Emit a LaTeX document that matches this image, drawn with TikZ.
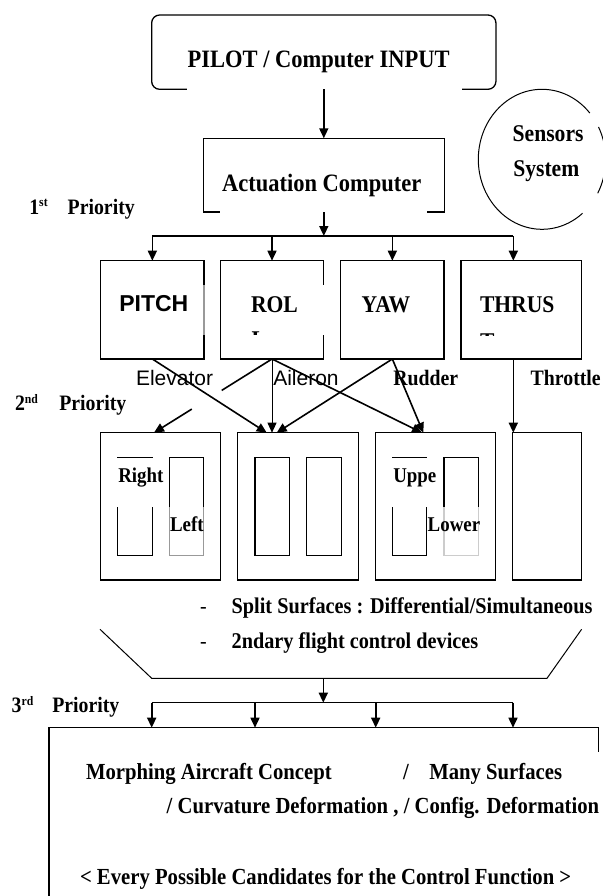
\documentclass[tikz,border=0pt]{standalone}
\usepackage{fontspec}
\setmainfont{Liberation Serif}[FakeStretch=0.9]
\newfontfamily\sansf{Liberation Sans}
\usetikzlibrary{arrows.meta,calc}
\begin{document}
\begin{tikzpicture}[x=1pt,y=-1pt,
  box/.style={draw, line width=1.3pt, inner sep=0pt, outer sep=0pt},
  inbox/.style={draw, line width=1.1pt, inner sep=0pt, outer sep=0pt, minimum width=34.4pt, minimum height=98.4pt},
  arr/.style={line width=1.6pt, -{Triangle[length=10pt,width=9pt]}},
  ln/.style={line width=1.4pt},
  lab/.style={inner sep=0pt, outer sep=0pt, anchor=base west},
  ser/.style={lab, font=\bfseries\fontsize{#1}{#1}\selectfont},
  sansl/.style={lab, font=\sansf\fontsize{#1}{#1}\selectfont},
  sansb/.style={lab, font=\sansf\bfseries\fontsize{#1}{#1}\selectfont}
]
\useasboundingbox (0,0) rectangle (602,896);

% ---- top ----
\node[box, rounded corners=8pt, minimum width=344.3pt, minimum height=74.3pt] (pilot) at (323.8,52.15) {};
\node[box, minimum width=240.7pt, minimum height=73.7pt] (act) at (323.8,175.15) {};
\draw[white, line width=2.6pt] (187.3,89.3) -- (461.7,89.3);
\draw[white, line width=2.6pt] (220,212) -- (426.7,212);
\node[ser=25, anchor=base] (tpilot) at (318.6,67.6) {PILOT / Computer INPUT};
\node[ser=25, anchor=base] (tact) at (321.7,191) {Actuation Computer};
\draw[arr] (pilot.south) -- (act.north);

% sensors
\node[inner sep=0pt, minimum width=127.4pt, minimum height=140pt] (sens) at (542,159.3) {};
\draw[line width=1pt] ([shift={(50.5:63.7 and 70)}]sens.center) arc[start angle=50.5, end angle=318.6, x radius=63.7, y radius=70];
\draw[line width=1pt] ([shift={(-27.5:63.7 and 70)}]sens.center) arc[start angle=-27.5, end angle=29, x radius=63.7, y radius=70];
\node[ser=24] (tsen1) at (512.7,142) {Sensors};
\node[ser=24] (tsen2) at (513.3,177) {System};

% priority labels
\node[ser=22] (n1) at (29.3,214) {1\raisebox{7pt}{\fontsize{13}{13}\selectfont st}};
\node[ser=22] (n1t) at (67.7,214) {Priority};
\node[ser=22] (n2) at (15,410) {2\raisebox{7pt}{\fontsize{13}{13}\selectfont nd}};
\node[ser=22] (n2t) at (59.3,410) {Priority};
\node[ser=22] (n3) at (11.7,712.7) {3\raisebox{7pt}{\fontsize{13}{13}\selectfont rd}};
\node[ser=22] (n3t) at (52.3,712.7) {Priority};

% ---- first row ----
\node[box, minimum width=103.3pt, minimum height=98.3pt] (pitch) at (152.35,309.85) {};
\node[box, minimum width=102.6pt, minimum height=98.3pt] (roll) at (272,309.85) {};
\node[box, minimum width=103.3pt, minimum height=98.3pt] (yaw) at (392.35,309.85) {};
\node[box, minimum width=120.7pt, minimum height=98.3pt] (thrust) at (521.35,309.85) {};
\fill[white, opacity=0.6] (201.5,285) rectangle (206,335);
\fill[white] (321.5,285) rectangle (325.5,335);

\coordinate (j1) at (323.8,236);
\coordinate (jl) at (152.35,236);
\coordinate (jr) at (513.3,236);
\draw[arr] (act.south) -- (j1);
\draw[ln] (jl) -- (jr);
\draw[arr] (jl) -- (pitch.north);
\draw[arr] (roll.north |- j1) -- (roll.north);
\draw[arr] (yaw.north |- j1) -- (yaw.north);
\draw[arr] (jr) -- (jr |- thrust.north);

\node[sansb=23] (tpitch) at (119.3,311.7) {PITCH};
\node[ser=24] (troll) at (251,312) {ROL};
\begin{scope}
\clip (245,320) rectangle (266,334.5);
\node[ser=24] (troll2) at (251.5,347.5) {L};
\end{scope}
\node[ser=24] (tyaw) at (361.7,312) {YAW};
\node[ser=24] (tthr) at (480,312) {THRUS};
\begin{scope}
\clip (475,320) rectangle (500,335.5);
\node[ser=24] (tthr2) at (480,349) {T};
\end{scope}

% ---- second row ----
\node[box, minimum width=120pt, minimum height=147.3pt] (s1) at (160.7,506.35) {};
\node[box, minimum width=120.6pt, minimum height=147.3pt] (s2) at (298,506.35) {};
\node[box, minimum width=120.4pt, minimum height=147.3pt] (s3) at (435.5,506.35) {};
\node[box, minimum width=69pt, minimum height=147.3pt] (s4) at (547.2,506.35) {};
\node[inbox] (r1a) at (135,506.5) {};
\node[inbox] (r1b) at (186.35,506.5) {};
\node[inbox] (r2a) at (272.15,506.5) {};
\node[inbox] (r2b) at (323.85,506.5) {};
\node[inbox] (r3a) at (409.5,506.5) {};
\node[inbox] (r3b) at (461.15,506.5) {};
\fill[white] (116,458.2) rectangle (166,506.7);
\fill[white, opacity=0.6] (166,507) rectangle (206.5,557);
\fill[white] (391,458.2) rectangle (437.5,506.7);
\fill[white, opacity=0.8] (427.6,507) rectangle (480,557);
\node[ser=21] (tright) at (118.3,482.7) {Right};
\node[ser=21] (tleft) at (170,531.7) {Left};
\node[ser=21] (tup) at (393.3,482.7) {Uppe};
\node[ser=21] (tlow) at (427.7,531.7) {Lower};

\coordinate (p1) at ($(s1.north west)+(53.3,0)$);
\coordinate (p2a) at ($(s2.north west)+(29,0)$);
\coordinate (p2b) at ($(s2.north west)+(34.3,0)$);
\coordinate (p2c) at ($(s2.north west)+(39,0)$);
\coordinate (p3a) at ($(s3.north west)+(46.7,0)$);
\coordinate (p3b) at ($(s3.north west)+(48,0)$);
\draw[arr] (pitch.south) -- (p2a);
\draw[ln, line width=1.6pt] (roll.south) -- ($(roll.south)!0.426!(p1)$);
\draw[arr] ($(roll.south)!0.68!(p1)$) -- (p1);
\draw[arr, line width=0.9pt] (roll.south) -- (p2b);
\draw[arr] (roll.south) -- (p3a);
\draw[arr] (yaw.south) -- (p2c);
\draw[arr] (yaw.south) -- (p3b);
\draw[arr] (jr |- thrust.south) -- (jr |- s4.north);

\node[sansl=21] (telev) at (136,385) {Elevator};
\node[sansl=21] (tail) at (273.3,385) {Aileron};
\node[ser=22] (trud) at (393.3,385) {Rudder};
\node[ser=22] (tthro) at (530.7,385) {Throttle};

% ---- split surfaces ----
\node[lab, font=\fontsize{22}{22}\selectfont, anchor=base] (d1) at (203.3,613.3) {-};
\node[ser=22.5] (tsplit) at (231.7,613.3) {Split Surfaces : Differential/Simultaneous};
\node[lab, font=\fontsize{22}{22}\selectfont, anchor=base] (d2) at (203.3,648.3) {-};
\node[ser=22.5] (t2nd) at (231.7,648.3) {2ndary flight control devices};

\coordinate (tz1) at (100,629.3);
\coordinate (tz2) at (151.7,678.3);
\coordinate (tz3) at (547,678.3);
\coordinate (tz4) at (581.6,629.3);
\draw[line width=1pt] (tz1) -- (tz2) -- (tz3) -- (tz4);

% ---- third level ----
\node[inner sep=0pt, outer sep=0pt, minimum width=549.8pt, minimum height=177.3pt] (morph) at (323.9,816.35) {};
\draw[line width=1.3pt] ($(morph.north east)+(0,24)$) -- (morph.north east) -- (morph.north west) -- (morph.south west);
\coordinate (tzm) at (323.3,678.3);
\coordinate (j3) at (323.3,702.7);
\coordinate (kl) at (151.7,702.7);
\coordinate (kb) at (255,702.7);
\coordinate (kc) at (375.7,702.7);
\coordinate (kr) at (513,702.7);
\draw[arr] (tzm) -- (j3);
\draw[ln] (kl) -- (kr);
\draw[arr] (kl) -- (kl |- morph.north);
\draw[arr] (kb) -- (kb |- morph.north);
\draw[arr] (kc) -- (kc |- morph.north);
\draw[arr] (kr) -- (kr |- morph.north);

\node[ser=23] (t3a) at (86,779.3) {Morphing Aircraft Concept};
\node[ser=23, anchor=base] (t3b) at (406,779.3) {/};
\node[ser=23] (t3c) at (429.3,779.3) {Many Surfaces};
\node[ser=23] (t3d) at (166.7,813.3) {/ Curvature Deformation , / Config. Deformation};
\node[ser=23] (t3e) at (80,884) {< Every Possible Candidates for the Control Function >};
\end{tikzpicture}
\end{document}
